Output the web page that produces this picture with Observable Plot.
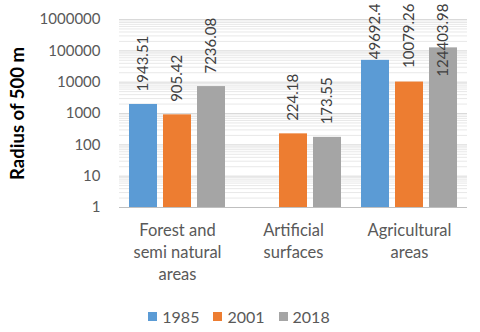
<!DOCTYPE html>
<html><head><meta charset="utf-8">
<script src="https://cdn.jsdelivr.net/npm/d3@7"></script>
<script src="https://cdn.jsdelivr.net/npm/@observablehq/plot@0.6"></script>
<style>
body{margin:0;background:#fff;font-family:Lato,sans-serif;}
#chart svg{display:block;overflow:visible}
#legend{display:flex;justify-content:center;align-items:center;height:32px;font-size:16px;color:#595959;width:478px}
.item{display:flex;align-items:center;margin:0 7px}
.sw{width:9px;height:9px;margin-right:5px}
</style></head><body><div id="chart"></div><div id="legend"></div>
<script>
const categories = ["Forest and semi natural areas", "Artificial surfaces", "Agricultural areas"];
const categoryLines = [["Forest and", "semi natural", "areas"], ["Artificial", "surfaces"], ["Agricultural", "areas"]];
const years = ["1985", "2001", "2018"];
const values1985 = [1943.51, null, 49692.4];
const values2001 = [905.42, 224.18, 10079.26];
const values2018 = [7236.08, 173.55, 124403.98];
const yTicks = [1, 10, 100, 1000, 10000, 100000, 1000000];
const colors = ["#5B9BD5", "#ED7D31", "#A5A5A5"];
const yTitle = "Radius of 500 m";

const series = [values1985, values2001, values2018];
const rows = [];
categories.forEach((c, i) => years.forEach((y, j) => {
  const v = series[j][i];
  if (v != null) rows.push({category: c, year: y, value: v});
}));
const minor = [];
yTicks.slice(0, -1).forEach(d => { for (let k = 2; k <= 9; k++) minor.push(d * k); });
const fits = d => d.value < 10000;

const chart = Plot.plot({
  width: 480, height: 300,
  marginTop: 19, marginBottom: 93, marginLeft: 119, marginRight: 13,
  style: {fontFamily: "Lato, sans-serif", fontSize: "15px", color: "#595959", background: "#fff", overflow: "visible"},
  fx: {domain: categories, padding: 0, label: null, axis: null},
  x: {domain: years, paddingInner: 0.18, paddingOuter: 0.29, axis: null},
  y: {type: "log", domain: [1, 1e6], label: null, axis: null},
  color: {domain: years, range: colors},
  marks: [
    Plot.ruleY(minor, {stroke: "#e8e8e8"}),
    Plot.ruleY(yTicks.slice(1), {stroke: "#d9d9d9"}),
    Plot.ruleY([1], {stroke: "#bfbfbf"}),
    Plot.axisY({ticks: yTicks, tickFormat: d => String(d), tickSize: 0, tickPadding: 19, fontSize: 15, fill: "#595959", label: null}),
    Plot.axisFx({anchor: "bottom", tickSize: 0, tickPadding: 13, fontSize: 16.5, lineHeight: 1.33, fill: "#595959", label: null,
      tickFormat: d => categoryLines[categories.indexOf(d)].join("\n")}),
    Plot.barY(rows, {fx: "category", x: "year", y1: () => 1, y2: "value", fill: "year"}),
    Plot.text(rows.filter(fits), {fx: "category", x: "year", y: "value", text: d => String(d.value), rotate: -90,
      textAnchor: "start", lineAnchor: "middle", dy: -13, fontSize: 15, fill: "#404040"}),
    Plot.text(rows.filter(d => !fits(d)), {fx: "category", x: "year", frameAnchor: "top", text: d => String(d.value), rotate: -90,
      textAnchor: "end", lineAnchor: "middle", dy: -16, fontSize: 15, fill: "#404040"}),
    Plot.text([yTitle], {fx: () => categories[0], frameAnchor: "left", dx: -101, rotate: -90, text: d => d,
      textAnchor: "middle", lineAnchor: "middle", fontWeight: "bold", fontSize: 18.5, fill: "#000"})
  ]
});
document.getElementById("chart").append(chart);

const legend = document.getElementById("legend");
years.forEach((y, i) => {
  const it = document.createElement("div"); it.className = "item";
  const sw = document.createElement("div"); sw.className = "sw"; sw.style.background = colors[i];
  const t = document.createElement("span"); t.textContent = y;
  it.append(sw, t); legend.append(it);
});
</script></body></html>
